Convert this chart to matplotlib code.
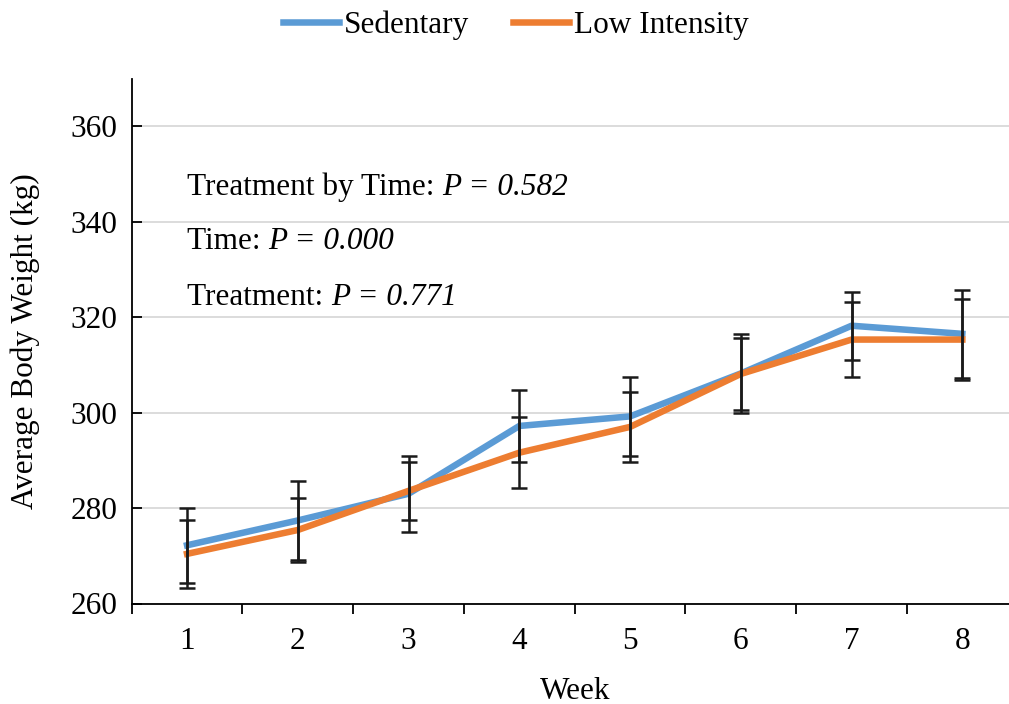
import matplotlib.pyplot as plt
import numpy as np

plt.rcParams['font.family'] = ['Liberation Serif', 'DejaVu Serif']

weeks = [1, 2, 3, 4, 5, 6, 7, 8]
sedentary = [272.2, 277.4, 283.0, 297.2, 299.2, 308.2, 318.2, 316.5]
sedentary_err = [7.9, 8.3, 8.0, 7.5, 8.3, 8.2, 7.1, 9.2]
low_int = [270.4, 275.4, 283.6, 291.6, 297.0, 308.1, 315.3, 315.3]
low_int_err = [7.1, 6.8, 6.1, 7.5, 7.4, 7.6, 7.9, 8.4]

blue = '#5B9BD5'
orange = '#ED7D31'
fs = 22.5

fig = plt.figure(figsize=(10.09, 7.04), dpi=100)
ax = fig.add_axes([131.7/1009, 1 - 603.5/704, 886/1009, 525/704])

ax.plot(weeks, sedentary, color=blue, lw=4.7, label='Sedentary', zorder=3)
ax.plot(weeks, low_int, color=orange, lw=4.7, label='Low Intensity', zorder=3)
ax.errorbar(weeks, sedentary, yerr=sedentary_err, fmt='none', ecolor='#1a1a1a',
            elinewidth=1.8, capsize=5.5, capthick=1.8, zorder=4)
ax.errorbar(weeks, low_int, yerr=low_int_err, fmt='none', ecolor='#1a1a1a',
            elinewidth=1.8, capsize=5.5, capthick=1.8, zorder=4)

ax.set_xlim(0.5, 8.5)
ax.set_ylim(260, 370)
ax.set_yticks(np.arange(260, 361, 20))
ax.set_xticks(weeks)
ax.set_xticks(np.arange(0.5, 8.6, 1), minor=True)
ax.tick_params(axis='x', which='major', length=0, pad=17, labelsize=fs)
ax.tick_params(axis='x', which='minor', length=7, width=1.3, direction='out')
ax.tick_params(axis='y', length=7, width=1.3, direction='in', pad=10, labelsize=fs)
ax.grid(axis='y', color='#d9d9d9', lw=1.3, zorder=0)
ax.set_axisbelow(True)
for s in ['top', 'right']:
    ax.spines[s].set_visible(False)
for s in ['left', 'bottom']:
    ax.spines[s].set_linewidth(1.3)

ax.set_ylabel('Average Body Weight (kg)', fontsize=fs, labelpad=22)
ax.set_xlabel('Week', fontsize=fs, labelpad=15)

notes = [('Treatment by Time: ', 'P = 0.582', 347.2),
         ('Time: ', 'P = 0.000', 335.8),
         ('Treatment: ', 'P = 0.771', 324.2)]
for label, pval, yv in notes:
    t = ax.text(1.0, yv, label, fontsize=fs, va='center')
    ax.annotate(pval, xy=(1, 0.5), xycoords=t, ha='left', va='center',
                fontsize=fs, style='italic')

fig.legend(loc='upper center', bbox_to_anchor=(0.511, 1.025), ncol=2, frameon=False,
           fontsize=fs, handlelength=1.8, handletextpad=0.15, columnspacing=1.4)

fig.savefig('out.png', dpi=100)
